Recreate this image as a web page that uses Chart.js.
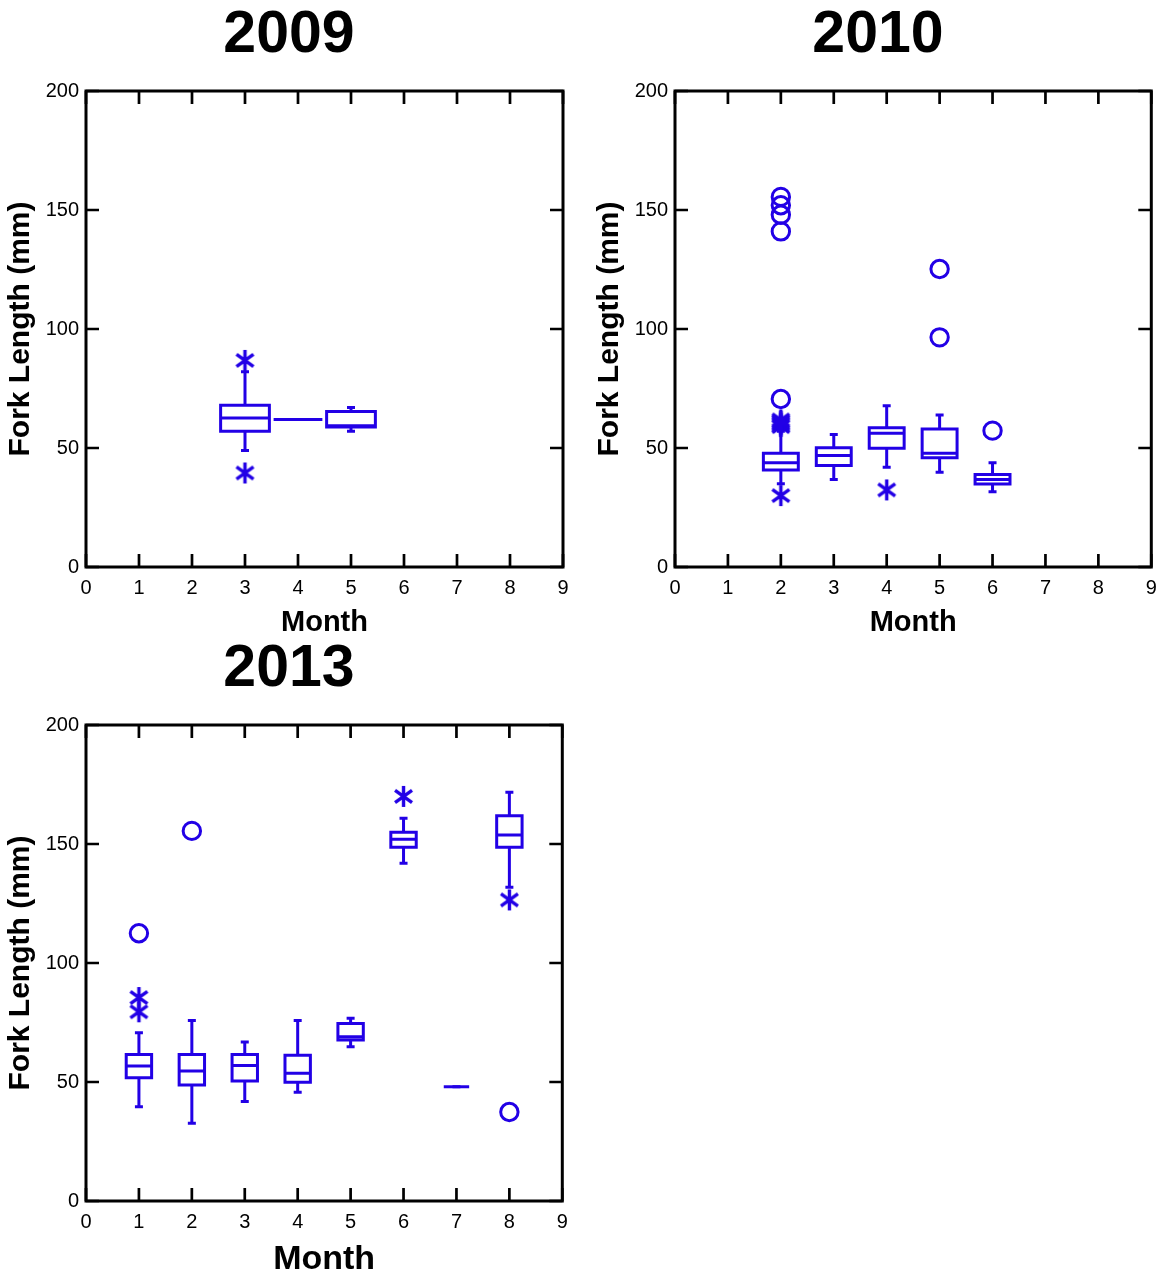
<!DOCTYPE html>
<html>
<head>
<meta charset="utf-8">
<script src="https://cdn.jsdelivr.net/npm/chart.js@4/dist/chart.umd.min.js"></script>
<style>
  html, body { margin: 0; background: #fff; overflow: hidden; width: 1159px; height: 1277px; }
  canvas { position: absolute; }
</style>
</head>
<body>
<canvas id="c2009" width="570" height="640" style="left:4px;top:0"></canvas>
<canvas id="c2010" width="570" height="640" style="left:593px;top:0"></canvas>
<canvas id="c2013" width="570" height="643" style="left:4px;top:634px"></canvas>
<script>
// ── Données ───────────────────────────────────────────────────────────────

// 2009
const months2009 = [3, 4, 5];
const low2009    = [49, 62, 57];
const q1_2009    = [57, 62, 58.8];
const med2009    = [62.6, 62, 59.3];
const q3_2009    = [68, 62, 65.3];
const high2009   = [82, 62, 67];
const circles2009 = [];
const stars2009   = [[3, 86.8], [3, 39.5]];

// 2010
const months2010 = [2, 3, 4, 5, 6];
const low2010    = [35, 36.8, 41.9, 39.8, 31.6];
const q1_2010    = [40.8, 42.6, 49.9, 45.9, 34.9];
const med2010    = [43.8, 46.9, 56.2, 47.8, 36.8];
const q3_2010    = [47.8, 50.1, 58.5, 58, 38.9];
const high2010   = [57, 55.7, 67.8, 63.9, 43.8];
const circles2010 = [[2, 155.5], [2, 152], [2, 148], [2, 141], [2, 70.6], [5, 125.2], [5, 96.5], [6, 57.3]];
const stars2010   = [[2, 59], [2, 59.7], [2, 60.4], [2, 61.1], [2, 61.8], [2, 30], [4, 32.4]];

// 2013
const months2013 = [1, 2, 3, 4, 5, 6, 7, 8];
const low2013    = [39.6, 32.7, 41.8, 45.7, 64.8, 141.9, 48, 131.8];
const q1_2013    = [51.8, 48.7, 50.4, 49.9, 67.6, 148.6, 48, 148.6];
const med2013    = [56.7, 54.6, 56.9, 53.7, 69, 152, 48, 153.8];
const q3_2013    = [61.6, 61.6, 61.6, 61.2, 74.6, 154.9, 48, 161.9];
const high2013   = [70.7, 75.8, 66.8, 75.8, 76.8, 160.8, 48, 171.7];
const circles2013 = [[1, 112.5], [2, 155.5], [8, 37.4]];
const stars2013   = [[1, 85.5], [1, 79.5], [6, 170], [8, 126.5]];

const BLUE = 'rgb(34,0,230)';
const FONT = "'Liberation Sans', Arial, Helvetica, sans-serif";
const TICK = 13;

// ── Marqueurs ─────────────────────────────────────────────────────────────

function makeAsterisk(size, lw) {
  const c = document.createElement('canvas');
  c.width = c.height = size + lw * 2;
  const g = c.getContext('2d');
  const m = c.width / 2, r = size / 2;
  g.strokeStyle = BLUE;
  g.lineWidth = lw;
  g.beginPath();
  for (const a of [90, 36, -36]) {
    const dx = r * Math.cos(a * Math.PI / 180), dy = r * Math.sin(a * Math.PI / 180);
    g.moveTo(m - dx, m - dy);
    g.lineTo(m + dx, m + dy);
  }
  g.stroke();
  return c;
}
const ASTERISK = makeAsterisk(21, 3.4);

// ── Plugins ───────────────────────────────────────────────────────────────

function boxPlugin(stats, halfW) {
  return {
    id: 'boxes',
    afterDatasetsDraw(chart) {
      const { ctx, scales: { x, y } } = chart;
      ctx.save();
      ctx.strokeStyle = BLUE;
      ctx.lineWidth = 3;
      stats.months.forEach((m, i) => {
        const cx = x.getPixelForValue(m);
        const hw = x.getPixelForValue(m + halfW) - cx;
        const yl = y.getPixelForValue(stats.low[i]);
        const y1 = y.getPixelForValue(stats.q1[i]);
        const ym = y.getPixelForValue(stats.med[i]);
        const y3 = y.getPixelForValue(stats.q3[i]);
        const yh = y.getPixelForValue(stats.high[i]);
        ctx.beginPath();
        ctx.moveTo(cx, y3); ctx.lineTo(cx, yh);
        ctx.moveTo(cx - 4, yh); ctx.lineTo(cx + 4, yh);
        ctx.moveTo(cx, y1); ctx.lineTo(cx, yl);
        ctx.moveTo(cx - 4, yl); ctx.lineTo(cx + 4, yl);
        ctx.stroke();
        ctx.beginPath();
        if (y1 - y3 > 0.5) ctx.rect(cx - hw, y3, hw * 2, y1 - y3);
        ctx.moveTo(cx - hw, ym); ctx.lineTo(cx + hw, ym);
        ctx.stroke();
      });
      ctx.restore();
    },
  };
}

const framePlugin = {
  id: 'frame',
  afterDraw(chart) {
    const { ctx, chartArea: a, scales: { x, y } } = chart;
    ctx.save();
    ctx.strokeStyle = '#000';
    ctx.lineWidth = 2.7;
    ctx.beginPath();
    x.ticks.forEach(t => {
      const px = x.getPixelForValue(t.value);
      ctx.moveTo(px, a.bottom); ctx.lineTo(px, a.bottom - TICK);
      ctx.moveTo(px, a.top);    ctx.lineTo(px, a.top + TICK);
    });
    y.ticks.forEach(t => {
      const py = y.getPixelForValue(t.value);
      ctx.moveTo(a.left, py);  ctx.lineTo(a.left + TICK, py);
      ctx.moveTo(a.right, py); ctx.lineTo(a.right - TICK, py);
    });
    ctx.stroke();
    ctx.lineWidth = 3;
    ctx.strokeRect(a.left, a.top, a.right - a.left, a.bottom - a.top);
    ctx.restore();
  },
};

// ── Rendu ─────────────────────────────────────────────────────────────────

function toPoints(list) {
  return list.map(([x, y]) => ({ x, y }));
}

function renderPanel(id, year, stats, circles, stars, opts) {
  new Chart(document.getElementById(id), {
    type: 'scatter',
    data: {
      datasets: [
        {
          data: toPoints(circles),
          pointStyle: 'circle', pointRadius: 8.7,
          borderColor: BLUE, borderWidth: 3, backgroundColor: 'rgba(0,0,0,0)',
        },
        {
          data: toPoints(stars),
          pointStyle: ASTERISK, pointRadius: 10,
        },
      ],
    },
    options: {
      responsive: false, animation: false,
      layout: { padding: { left: 11, right: 11, top: 0, bottom: 0 } },
      plugins: {
        legend: { display: false },
        tooltip: { enabled: false },
        title: {
          display: true, text: year, color: '#000',
          font: { family: FONT, size: 59, weight: 'bold', lineHeight: 1 },
          padding: { top: 6, bottom: 26 },
        },
      },
      scales: {
        x: {
          type: 'linear', min: 0, max: 9,
          grid: { display: false, drawTicks: false }, border: { display: false },
          ticks: { stepSize: 1, color: '#000', padding: 9, font: { family: FONT, size: 20 } },
          title: {
            display: true, text: 'Month', color: '#000',
            font: { family: FONT, size: opts.monthSize, weight: 'bold', lineHeight: 1 },
            padding: { top: 0, bottom: opts.monthPad },
          },
          afterFit: s => {
            s.height = opts.xHeight;
            s.paddingLeft = 0;
            s.paddingRight = 0;
          },
        },
        y: {
          type: 'linear', min: 0, max: 200,
          grid: { display: false, drawTicks: false }, border: { display: false },
          ticks: { stepSize: 50, color: '#000', padding: 7, font: { family: FONT, size: 20 } },
          title: {
            display: true, text: 'Fork Length (mm)', color: '#000',
            font: { family: FONT, size: 30, weight: 'bold', lineHeight: 0.37 },
            padding: { top: 0, bottom: 0 },
          },
          afterFit: s => { s.width = 71; },
        },
      },
    },
    plugins: [boxPlugin(stats, opts.halfW), framePlugin],
  });
}

renderPanel('c2009', '2009',
  { months: months2009, low: low2009, q1: q1_2009, med: med2009, q3: q3_2009, high: high2009 },
  circles2009, stars2009, { halfW: 0.46, monthSize: 29, monthPad: 2.5, xHeight: 73 });

renderPanel('c2010', '2010',
  { months: months2010, low: low2010, q1: q1_2010, med: med2010, q3: q3_2010, high: high2010 },
  circles2010, stars2010, { halfW: 0.33, monthSize: 29, monthPad: 2.5, xHeight: 73 });

renderPanel('c2013', '2013',
  { months: months2013, low: low2013, q1: q1_2013, med: med2013, q3: q3_2013, high: high2013 },
  circles2013, stars2013, { halfW: 0.24, monthSize: 34, monthPad: 0, xHeight: 76 });
</script>
</body>
</html>
